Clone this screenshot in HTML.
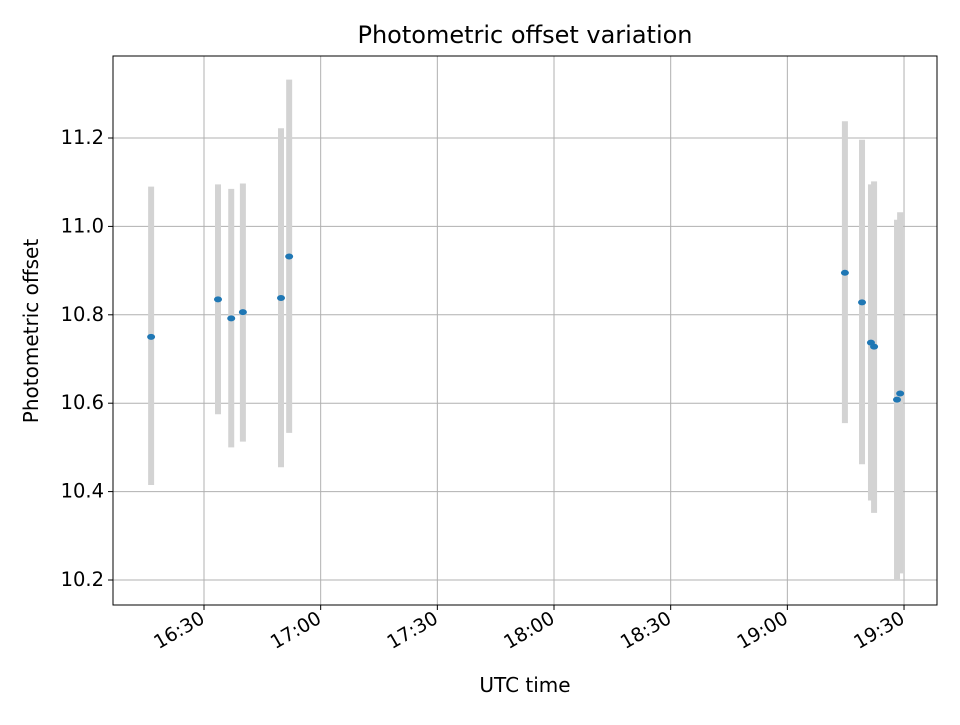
<!DOCTYPE html>
<html><head><meta charset="utf-8"><style>
body{margin:0;background:#fff;font-family:"Liberation Sans","DejaVu Sans",sans-serif;}
svg text{font-family:"DejaVu Sans","Liberation Sans",sans-serif;fill:#000;}
</style></head><body>
<svg id="chart" width="960" height="720" xmlns="http://www.w3.org/2000/svg">
<rect width="960" height="720" fill="#fff"/>
<g id="grid"></g>
<g id="bars"></g>
<g id="pts"></g>
<rect x="113" y="56" width="824" height="549" fill="none" stroke="#000" stroke-width="1"/>
<g id="ticks"></g>
<text x="525" y="43" style="font-size:24px" text-anchor="middle">Photometric offset variation</text>
<text x="525" y="692" style="font-size:20px" text-anchor="middle">UTC time</text>
<text x="38" y="331" style="font-size:20px" text-anchor="middle" transform="rotate(-90 38 331)">Photometric offset</text>
</svg>
<script>
const times=["16:16.4","16:33.6","16:37.0","16:40.0","16:49.8","16:51.9","19:14.8","19:19.2","19:21.5","19:22.3","19:28.2","19:29.0"];
const values=[10.75,10.835,10.792,10.806,10.838,10.932,10.895,10.828,10.737,10.728,10.608,10.622];
const lows=[10.415,10.575,10.50,10.513,10.455,10.533,10.555,10.462,10.38,10.352,10.20,10.215];
const highs=[11.09,11.095,11.085,11.097,11.222,11.332,11.238,11.196,11.095,11.102,11.015,11.032];
const xTickLabels=["16:30","17:00","17:30","18:00","18:30","19:00","19:30"];
const yTickLabels=["10.2","10.4","10.6","10.8","11.0","11.2"];
const NS="http://www.w3.org/2000/svg";
function mins(t){const [h,m]=t.split(":");return +h*60+ +m;}
function xs(t){return 204+(mins(t)-990)*(116.67/30);}
function ys(v){return 580-(v-10.2)*(442/1.0);}
function mk(tag,attrs,parent){const e=document.createElementNS(NS,tag);for(const k in attrs)e.setAttribute(k,attrs[k]);parent.appendChild(e);return e;}
const grid=document.getElementById('grid'),ticks=document.getElementById('ticks');
xTickLabels.forEach(l=>{const x=xs(l);
 const g=mk('line',{x1:x,x2:x,y1:56,y2:605,stroke:'#b0b0b0','stroke-width':1},grid);
 
 
 const t=mk('line',{x1:x,x2:x,y1:605,y2:610,stroke:'#000'},ticks);
 
 
 const tx=mk('text',{x:x+2,y:622,style:'font-size:19px','text-anchor':'end',transform:`rotate(-30 ${x+2} 622)`},ticks);
 tx.textContent=l;
 
 
});
yTickLabels.forEach(l=>{const y=ys(+l);
 const g=mk('line',{x1:113,x2:937,y1:y,y2:y,stroke:'#b0b0b0','stroke-width':1},grid);
 
 
 const t=mk('line',{x1:108,x2:113,y1:y,y2:y,stroke:'#000'},ticks);
 
 
 const tx=mk('text',{x:104,y:y+6,style:'font-size:19.5px','text-anchor':'end'},ticks);
 tx.textContent=l;
 
 
});
const bars=document.getElementById('bars'),pts=document.getElementById('pts');
times.forEach((t,i)=>{const x=xs(t);
 const b=mk('line',{x1:x,x2:x,y1:ys(lows[i]),y2:ys(highs[i]),stroke:'#d3d3d3','stroke-width':6},bars);
 
 
 const p=mk('ellipse',{cx:x,cy:ys(values[i]),rx:4,ry:3,fill:'#1f77b4'},pts);
 
 
});
</script>
</body></html>
